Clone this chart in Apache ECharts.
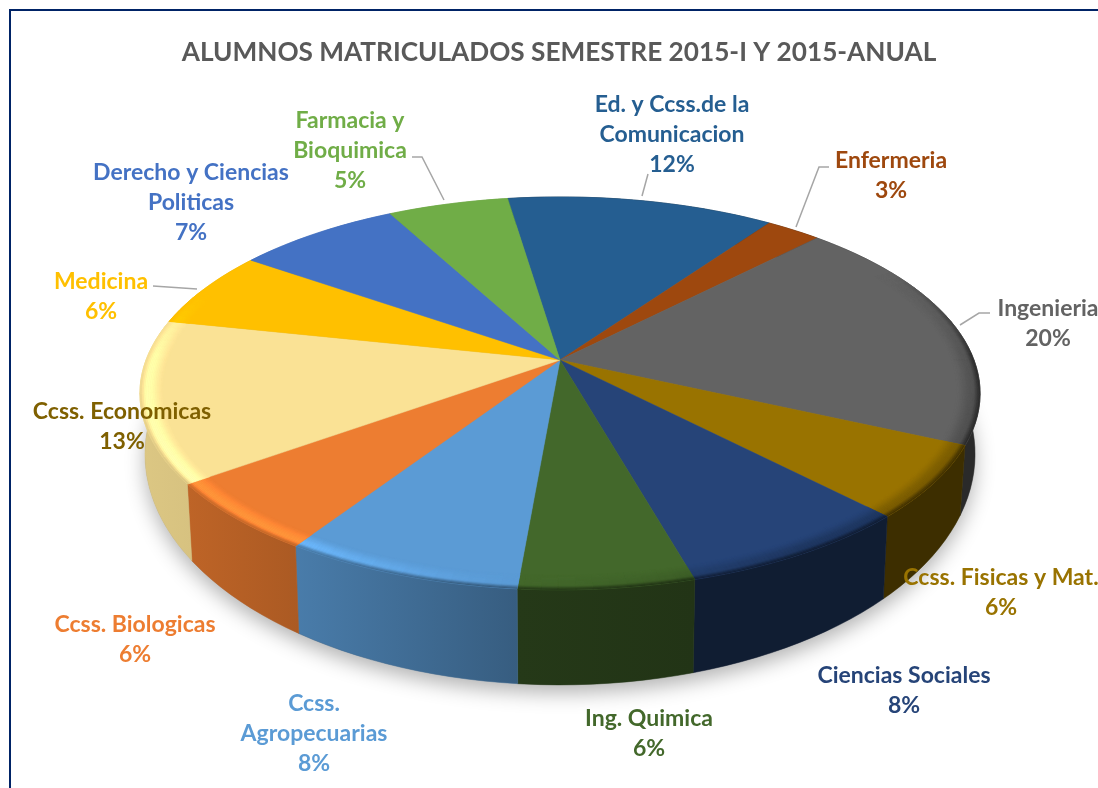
<!DOCTYPE html>
<html lang="es">
<head>
<meta charset="UTF-8">
<title>Alumnos matriculados</title>
<style>
  html, body { margin: 0; padding: 0; background: #fff; }
  #main { width: 1098px; height: 788px; }
</style>
<script src="https://cdn.jsdelivr.net/npm/echarts@6/dist/echarts.min.js"></script>
</head>
<body>
<div id="main"></div>
<script>
// datos (%), en sentido horario desde Ed. y Ccss.
var names = ['Ed. y Ccss.de la\nComunicacion', 'Enfermeria', 'Ingenieria', 'Ccss. Fisicas y Mat.',
  'Ciencias Sociales', 'Ing. Quimica', 'Ccss.\nAgropecuarias', 'Ccss. Biologicas',
  'Ccss. Economicas', 'Medicina', 'Derecho y Ciencias\nPoliticas', 'Farmacia y\nBioquimica'];
var values = [12.1, 2.5, 19.55, 5.95, 7.8, 5.75, 7.85, 5.8, 13.3, 6.35, 7.45, 5.45];

var colors = ['#255E91', '#9E480E', '#636363', '#997300', '#264478', '#43682B',
  '#5B9BD5', '#ED7D31', '#FAE295', '#FFC000', '#4472C4', '#70AD47'];
var labelColors = ['#255E91', '#9E480E', '#636363', '#997300', '#264478', '#43682B',
  '#5B9BD5', '#ED7D31', '#7F6000', '#FFC000', '#4472C4', '#70AD47'];

// sombreado de la pared: factor izquierda / derecha
var wallShade = [[.4, .4], [.4, .4], [.42, .42], [.4, .4], [.42, .42], [.55, .5],
  [.8, .6], [.8, .72], [.88, .86], [.9, .9], [.9, .9], [.9, .9]];
// brillo del borde segun el angulo: [angulo, cresta, filo]
var rimShade = [[0, 1, 1], [60, 1, 1], [90, .85, .45], [120, .8, .42], [150, .8, .42], [170, .94, .52],
  [190, 1.02, .6], [215, 1.2, .82], [240, 1.2, .88], [270, 1.14, .98], [292, 1, 1], [360, 1, 1]];

// posicion de las etiquetas: centro x, y de la primera linea
var labelPos = [[672, 104], [891, 160], [1048, 308], [1001, 577], [904, 675], [649, 718],
  [314, 703], [135, 624], [122, 411], [101, 281], [191, 172], [350, 120]];
var leaderLines = [
  [[648, 174], [642, 196]],
  [[829, 167], [819, 167], [796, 227]],
  [[990, 313], [979, 313], [960, 325]],
  [[153, 286], [197, 289]],
  [[412, 157], [422, 157], [444, 200]]
];

// geometria de la torta en perspectiva
var cx = 560, cy = 360, k = 0.17;
var topA = 414, topB = 190.8;
var botA = 409, botB = 224, botY = 55;
var startDeg = -8.5;

var total = 0;
for (var i = 0; i < values.length; i++) total += values[i];
var startAngles = [];
var run = startDeg;
for (var i = 0; i < values.length; i++) {
  startAngles.push(run);
  run += values[i] / total * 360;
}

function topPoint(r, deg) {
  var t = deg * Math.PI / 180, u = r * Math.sin(t), v = -r * Math.cos(t), w = 1 - k * v;
  return [cx + topA * u / w, cy + topB * v / w];
}
function botPoint(deg) {
  var t = deg * Math.PI / 180, u = Math.sin(t), v = -Math.cos(t), w = 1 - k * v;
  return [cx + botA * u / w, cy + botY + botB * v / w];
}
function shade(hex, f) {
  var n = parseInt(hex.slice(1), 16);
  var r = Math.min(255, Math.round((n >> 16 & 255) * f));
  var g = Math.min(255, Math.round((n >> 8 & 255) * f));
  var b = Math.min(255, Math.round((n & 255) * f));
  return 'rgb(' + r + ',' + g + ',' + b + ')';
}
function rimAt(deg) {
  var a = (deg % 360 + 360) % 360;
  for (var i = 1; i < rimShade.length; i++) {
    if (a <= rimShade[i][0]) {
      var p = rimShade[i - 1], q = rimShade[i], m = (a - p[0]) / (q[0] - p[0]);
      return [p[1] + (q[1] - p[1]) * m, p[2] + (q[2] - p[2]) * m];
    }
  }
  return [1, 1];
}
function sliceEnd(idx) {
  return startAngles[idx] + values[idx] / total * 360;
}

function renderShadow() {
  var pts = [];
  for (var a = 0; a < 360; a += 3) pts.push(botPoint(a));
  return {
    type: 'polygon',
    shape: { points: pts },
    style: { fill: '#999', shadowBlur: 20, shadowColor: 'rgba(0,0,0,0.3)', shadowOffsetY: 8 }
  };
}

function renderWall(params) {
  var idx = params.dataIndex;
  var a0 = startAngles[idx], a1 = sliceEnd(idx);
  var upper = [], lower = [];
  for (var a = a0; a < a1; a += 2) {
    upper.push(topPoint(1, a));
    lower.push(botPoint(a));
  }
  upper.push(topPoint(1, a1));
  lower.push(botPoint(a1));
  var pts = upper.concat(lower.reverse());
  var minX = 9999, maxX = -9999;
  for (var i = 0; i < pts.length; i++) {
    minX = Math.min(minX, pts[i][0]);
    maxX = Math.max(maxX, pts[i][0]);
  }
  var c = colors[idx];
  return {
    type: 'polygon',
    shape: { points: pts },
    style: {
      fill: {
        type: 'linear', global: true, x: minX, y: 0, x2: maxX, y2: 0,
        colorStops: [
          { offset: 0, color: shade(c, wallShade[idx][0]) },
          { offset: 1, color: shade(c, wallShade[idx][1]) }
        ]
      },
      stroke: shade(c, (wallShade[idx][0] + wallShade[idx][1]) / 2),
      lineWidth: 0.5
    }
  };
}

function renderTop(params) {
  var idx = params.dataIndex;
  var a0 = startAngles[idx], a1 = sliceEnd(idx);
  var c = colors[idx];
  var pts = [[cx, cy]];
  for (var a = a0; a < a1; a += 1) pts.push(topPoint(1, a));
  pts.push(topPoint(1, a1));
  var children = [{
    type: 'polygon',
    shape: { points: pts },
    style: { fill: c, stroke: c, lineWidth: 0.5 }
  }];
  // biselado del borde: del color plano a la cresta y de ahi al filo
  var inner = .945, bands = 14, crest = .7;
  var step = 2;
  for (var a = a0; a < a1; a += step) {
    var b = Math.min(a + step, a1);
    var rim = rimAt((a + b) / 2);
    if (rim[0] === 1 && rim[1] === 1) continue;
    for (var j = 0; j < bands; j++) {
      var s = (j + 0.5) / bands;
      var f;
      if (s < crest) {
        var m = s / crest;
        f = 1 + (rim[0] - 1) * m * m * (3 - 2 * m);
      } else {
        var m2 = (s - crest) / (1 - crest);
        f = rim[0] + (rim[1] - rim[0]) * m2 * m2 * (3 - 2 * m2);
      }
      var r0 = inner + (1 - inner) * j / bands, r1 = inner + (1 - inner) * (j + 1) / bands;
      var col = shade(c, f);
      children.push({
        type: 'polygon',
        shape: { points: [topPoint(r0, a), topPoint(r0, b), topPoint(r1, b), topPoint(r1, a)] },
        style: { fill: col, stroke: col, lineWidth: 0.4 }
      });
    }
  }
  return { type: 'group', children: children };
}

function renderLeader(params) {
  return {
    type: 'polyline',
    shape: { points: leaderLines[params.dataIndex] },
    style: { stroke: '#A6A6A6', lineWidth: 1.5, fill: null }
  };
}

function renderLabel(params) {
  var idx = params.dataIndex;
  return {
    type: 'text',
    style: {
      x: labelPos[idx][0],
      y: labelPos[idx][1] - 15,
      text: names[idx] + '\n' + Math.round(values[idx]) + '%',
      align: 'center',
      verticalAlign: 'top',
      lineHeight: 30.4,
      fill: labelColors[idx],
      fontFamily: 'Lato',
      fontWeight: 'bold',
      fontSize: 23
    }
  };
}

var chart = echarts.init(document.getElementById('main'));
chart.setOption({
  animation: false,
  backgroundColor: '#fff',
  title: {
    text: 'ALUMNOS MATRICULADOS SEMESTRE 2015-I Y 2015-ANUAL',
    left: 554,
    top: 35,
    textAlign: 'center',
    textStyle: { color: '#595959', fontFamily: 'Lato', fontWeight: 'bold', fontSize: 26.2 }
  },
  graphic: [{
    type: 'polyline',
    shape: { points: [[1098, 10], [10, 10], [10, 788]] },
    style: { stroke: '#002366', lineWidth: 2, fill: null }
  }],
  series: [
    { type: 'custom', coordinateSystem: 'none', silent: true, z: 1, data: [0], renderItem: renderShadow },
    { type: 'custom', coordinateSystem: 'none', silent: true, z: 2, data: values, renderItem: renderWall },
    { type: 'custom', coordinateSystem: 'none', silent: true, z: 3, data: values, renderItem: renderTop },
    { type: 'custom', coordinateSystem: 'none', silent: true, z: 4, data: leaderLines.map(function (l, i) { return i; }), renderItem: renderLeader },
    { type: 'custom', coordinateSystem: 'none', silent: true, z: 5, data: values, renderItem: renderLabel }
  ]
});
</script>
</body>
</html>
